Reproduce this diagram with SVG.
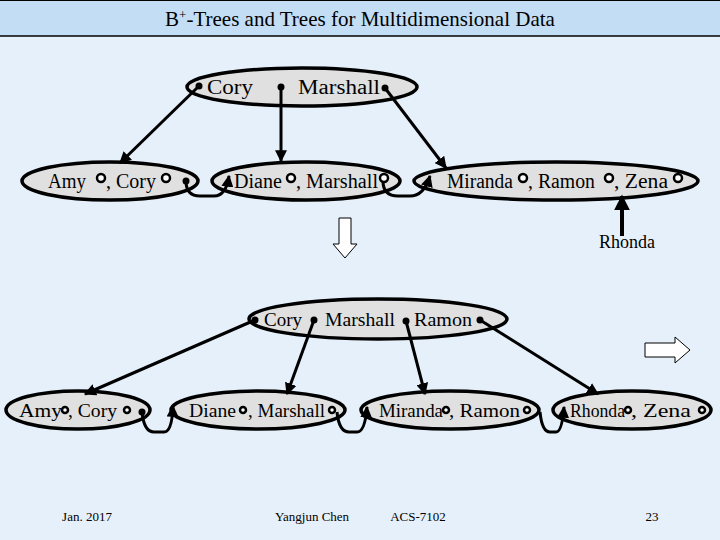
<svg xmlns="http://www.w3.org/2000/svg" width="720" height="540" viewBox="0 0 720 540">
<defs>
<marker id="ah" viewBox="0 0 10 10" refX="9" refY="5" markerWidth="4" markerHeight="4" orient="auto"><path d="M0,0L10,5L0,10z" fill="#000"/></marker>
</defs>
<style>
.n{fill:#e0e0e0;stroke:#000;stroke-width:3.5}
.t{font-family:"Liberation Serif",serif;font-size:20px;fill:#000}
.b{font-family:"Liberation Serif",serif;font-size:18px;fill:#000}
.d{fill:#000}
.o{fill:#fff;stroke:#000;stroke-width:2.5}
.c{fill:none;stroke:#000;stroke-width:3;marker-end:url(#ah)}
.f{font-family:"Liberation Serif",serif;font-size:13px;fill:#000;text-anchor:middle}
</style>
<rect width="720" height="540" fill="#e6f0fb"/>
<rect width="720" height="36" fill="#c3ddf5"/>
<line x1="0" y1="36" x2="720" y2="36" stroke="#000" stroke-width="1.5"/>
<line x1="0" y1="0.5" x2="720" y2="0.5" stroke="#000" stroke-width="1"/>
<text x="360" y="26" text-anchor="middle" style="font-family:'Liberation Serif',serif;font-size:21px">B<tspan dy="-7" font-size="13">+</tspan><tspan dy="7">-Trees and Trees for Multidimensional Data</tspan></text>

<g id="top-root"><ellipse class="n" cx="302" cy="87" rx="115" ry="19"/>
<text class="t" x="207" y="94" font-size="22" textLength="46" lengthAdjust="spacingAndGlyphs">Cory</text><text class="t" x="298" y="94" font-size="22" textLength="82" lengthAdjust="spacingAndGlyphs">Marshall</text>
<circle class="d" cx="199" cy="86" r="3.5"/><circle class="d" cx="281" cy="87" r="3.5"/><circle class="d" cx="385" cy="88" r="3.5"/></g>
<g id="top-l1"><ellipse class="n" cx="110" cy="181" rx="88" ry="19"/>
<text class="t" x="48" y="188" textLength="38" lengthAdjust="spacingAndGlyphs">Amy</text><circle class="o" cx="101" cy="178" r="4"/><text class="t" x="106" y="188" textLength="50" lengthAdjust="spacingAndGlyphs">, Cory</text><circle class="o" cx="166" cy="178" r="4"/><circle class="d" cx="186" cy="181" r="3.5"/></g>
<g id="top-l2"><ellipse class="n" cx="306" cy="181" rx="94" ry="19"/>
<text class="t" x="234" y="188" textLength="48" lengthAdjust="spacingAndGlyphs">Diane</text><circle class="o" cx="291" cy="178" r="4"/><text class="t" x="296" y="188" textLength="82" lengthAdjust="spacingAndGlyphs">, Marshall</text><circle class="o" cx="384" cy="178" r="4"/></g>
<g id="top-l3"><ellipse class="n" cx="556" cy="181" rx="142" ry="19"/>
<text class="t" x="447" y="188" textLength="66" lengthAdjust="spacingAndGlyphs">Miranda</text><circle class="o" cx="523" cy="178" r="4"/><text class="t" x="528" y="188" textLength="67" lengthAdjust="spacingAndGlyphs">, Ramon</text><circle class="o" cx="609" cy="178" r="4"/><text class="t" x="614" y="188" textLength="54" lengthAdjust="spacingAndGlyphs">, Zena</text><circle class="o" cx="678" cy="178" r="4"/></g>
<text class="b" x="627" y="248" text-anchor="middle">Rhonda</text>

<g id="bot-root"><ellipse class="n" cx="378" cy="319" rx="129" ry="20"/>
<text class="b" x="264" y="326" textLength="38" lengthAdjust="spacingAndGlyphs">Cory</text><text class="b" x="325" y="326" textLength="70" lengthAdjust="spacingAndGlyphs">Marshall</text><text class="b" x="414" y="326" textLength="58" lengthAdjust="spacingAndGlyphs">Ramon</text>
<circle class="d" cx="255" cy="320" r="3.5"/><circle class="d" cx="314" cy="320" r="3.5"/><circle class="d" cx="406" cy="321" r="3.5"/><circle class="d" cx="480" cy="320" r="3.5"/></g>
<g id="bot-l1"><ellipse class="n" cx="78" cy="410" rx="72" ry="19"/>
<text class="b" x="19" y="417" textLength="43" lengthAdjust="spacingAndGlyphs">Amy</text><circle class="o" cx="65" cy="410" r="3"/><text class="b" x="68" y="417" textLength="49" lengthAdjust="spacingAndGlyphs">, Cory</text><circle class="o" cx="127" cy="410" r="3"/><circle class="d" cx="142" cy="412" r="3.5"/></g>
<g id="bot-l2"><ellipse class="n" cx="258" cy="410" rx="87" ry="19"/>
<text class="b" x="189" y="417" textLength="47" lengthAdjust="spacingAndGlyphs">Diane</text><circle class="o" cx="243" cy="410" r="3"/><text class="b" x="248" y="417" textLength="77" lengthAdjust="spacingAndGlyphs">, Marshall</text><circle class="o" cx="332" cy="410" r="3"/></g>
<g id="bot-l3"><ellipse class="n" cx="450" cy="410" rx="89" ry="19"/>
<text class="b" x="379" y="417" textLength="64" lengthAdjust="spacingAndGlyphs">Miranda</text><circle class="o" cx="446" cy="410" r="3"/><text class="b" x="449" y="417" textLength="71" lengthAdjust="spacingAndGlyphs">, Ramon</text><circle class="o" cx="527" cy="410" r="3"/></g>
<g id="bot-l4"><ellipse class="n" cx="632" cy="410" rx="79" ry="19"/>
<text class="b" x="570" y="417" textLength="55" lengthAdjust="spacingAndGlyphs">Rhonda</text><circle class="o" cx="628" cy="410" r="3"/><text class="b" x="631" y="417" textLength="60" lengthAdjust="spacingAndGlyphs">, Zena</text><circle class="o" cx="702" cy="410" r="3"/></g>

<g id="connectors">
<path class="c" d="M199,86L120,163"/>
<path class="c" d="M281,87L281,161"/>
<path class="c" d="M385,88L446,168"/>
<path class="c" d="M186,181Q186,196 200,196L214,196Q226,196 229,176"/>
<path class="c" d="M383,181Q383,196 398,196L410,196Q424,196 430,176"/>
<path class="c" d="M622,236L622,196" style="stroke-width:4"/>
<path class="c" d="M255,320L85,394"/>
<path class="c" d="M314,320L287,394"/>
<path class="c" d="M406,321L425,394"/>
<path class="c" d="M480,320L598,394"/>
<path class="c" d="M142,412Q144,432 154,432L164,432Q172,432 173,406"/>
<path class="c" d="M337,412Q339,432 349,432L357,432Q365,432 367,407"/>
<path class="c" d="M540,412Q542,432 550,432L556,432Q562,432 564,407"/>
</g>
<path d="M339,218H351V244H357L345,258L333,244H339Z" fill="#fff" stroke="#000" stroke-width="1"/>
<path d="M645,343H675V337L690,350L675,363V357H645Z" fill="#fff" stroke="#000" stroke-width="1"/>

<text class="f" x="87" y="521">Jan. 2017</text>
<text class="f" x="312" y="521">Yangjun Chen</text>
<text class="f" x="418" y="521">ACS-7102</text>
<text class="f" x="652" y="521">23</text>
</svg>
